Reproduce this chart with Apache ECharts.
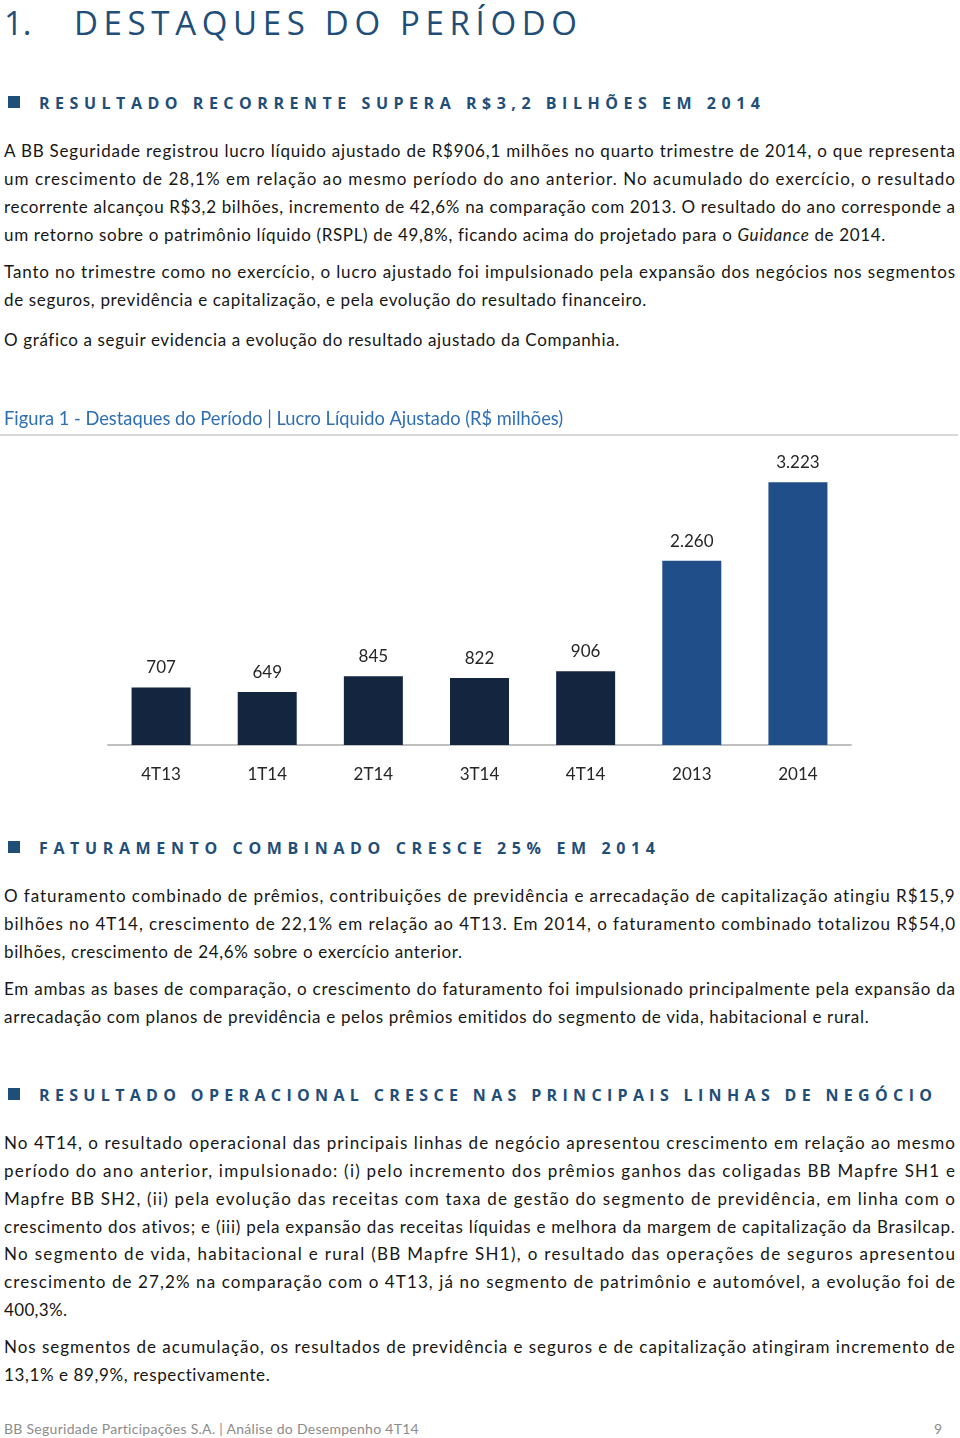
<!DOCTYPE html>
<html><head><meta charset="utf-8">
<script src="https://cdn.jsdelivr.net/npm/echarts@6/dist/echarts.min.js"></script>
<style>
html,body{margin:0;padding:0;background:#fff;}
body{width:960px;height:1438px;position:relative;overflow:hidden;font-family:Lato,"Open Sans",sans-serif;}
.ln{position:absolute;left:4px;white-space:nowrap;font-size:17px;line-height:28px;height:28px;color:#161616;margin-top:1px;}
.hd{position:absolute;left:39px;white-space:nowrap;font-family:"Open Sans",sans-serif;font-weight:700;font-size:16px;color:#1f4e79;line-height:24px;height:24px;margin-top:1px;}
.sq{position:absolute;left:8px;width:12px;height:12px;background:#1f4e79;}
.ttl{position:absolute;white-space:nowrap;font-family:"Open Sans",sans-serif;font-size:33px;color:#1f4e79;line-height:44px;height:44px;top:1px;}
.ft{position:absolute;white-space:nowrap;font-size:14px;color:#8c8c8c;line-height:20px;top:1419px;}
#chart{position:absolute;left:0;top:400px;width:960px;height:410px;}
#sep{position:absolute;left:0;top:434px;width:958px;height:2px;background:#d9d9d9;}
</style></head>
<body>
<div class="ttl" style="left:4px">1.</div>
<div class="ttl fit" style="left:74px" data-r="577">DESTAQUES DO PERÍODO</div>

<div class="sq" style="top:96px"></div>
<div class="hd fit" style="top:90px" data-r="760">RESULTADO RECORRENTE SUPERA R$3,2 BILHÕES EM 2014</div>

<div class="ln fit" style="top:136px" data-r="955">A BB Seguridade registrou lucro líquido ajustado de R$906,1 milhões no quarto trimestre de 2014, o que representa</div>
<div class="ln fit" style="top:164px" data-r="955">um crescimento de 28,1% em relação ao mesmo período do ano anterior. No acumulado do exercício, o resultado</div>
<div class="ln fit" style="top:192px" data-r="955">recorrente alcançou R$3,2 bilhões, incremento de 42,6% na comparação com 2013. O resultado do ano corresponde a</div>
<div class="ln fit" style="top:220px" data-r="885">um retorno sobre o patrimônio líquido (RSPL) de 49,8%, ficando acima do projetado para o <i>Guidance</i> de 2014.</div>
<div class="ln fit" style="top:257px" data-r="955">Tanto no trimestre como no exercício, o lucro ajustado foi impulsionado pela expansão dos negócios nos segmentos</div>
<div class="ln fit" style="top:285px" data-r="646">de seguros, previdência e capitalização, e pela evolução do resultado financeiro.</div>
<div class="ln fit" style="top:325px" data-r="619">O gráfico a seguir evidencia a evolução do resultado ajustado da Companhia.</div>

<div id="chart"></div>
<div id="sep"></div>

<div class="sq" style="top:841px"></div>
<div class="hd fit" style="top:835px" data-r="655">FATURAMENTO COMBINADO CRESCE 25% EM 2014</div>

<div class="ln fit" style="top:881px" data-r="955">O faturamento combinado de prêmios, contribuições de previdência e arrecadação de capitalização atingiu R$15,9</div>
<div class="ln fit" style="top:909px" data-r="955">bilhões no 4T14, crescimento de 22,1% em relação ao 4T13. Em 2014, o faturamento combinado totalizou R$54,0</div>
<div class="ln fit" style="top:937px" data-r="462">bilhões, crescimento de 24,6% sobre o exercício anterior.</div>
<div class="ln fit" style="top:974px" data-r="955">Em ambas as bases de comparação, o crescimento do faturamento foi impulsionado principalmente pela expansão da</div>
<div class="ln fit" style="top:1002px" data-r="869">arrecadação com planos de previdência e pelos prêmios emitidos do segmento de vida, habitacional e rural.</div>

<div class="sq" style="top:1088px"></div>
<div class="hd fit" style="top:1082px" data-r="932">RESULTADO OPERACIONAL CRESCE NAS PRINCIPAIS LINHAS DE NEGÓCIO</div>

<div class="ln fit" style="top:1128px" data-r="955">No 4T14, o resultado operacional das principais linhas de negócio apresentou crescimento em relação ao mesmo</div>
<div class="ln fit" style="top:1156px" data-r="955">período do ano anterior, impulsionado: (i) pelo incremento dos prêmios ganhos das coligadas BB Mapfre SH1 e</div>
<div class="ln fit" style="top:1184px" data-r="955">Mapfre BB SH2, (ii) pela evolução das receitas com taxa de gestão do segmento de previdência, em linha com o</div>
<div class="ln fit" style="top:1212px" data-r="955">crescimento dos ativos; e (iii) pela expansão das receitas líquidas e melhora da margem de capitalização da Brasilcap.</div>
<div class="ln fit" style="top:1239px" data-r="955">No segmento de vida, habitacional e rural (BB Mapfre SH1), o resultado das operações de seguros apresentou</div>
<div class="ln fit" style="top:1267px" data-r="955">crescimento de 27,2% na comparação com o 4T13, já no segmento de patrimônio e automóvel, a evolução foi de</div>
<div class="ln fit" style="top:1295px" data-r="67">400,3%.</div>
<div class="ln fit" style="top:1332px" data-r="955">Nos segmentos de acumulação, os resultados de previdência e seguros e de capitalização atingiram incremento de</div>
<div class="ln fit" style="top:1360px" data-r="270">13,1% e 89,9%, respectivamente.</div>

<div class="ft fit" style="left:4px" data-r="419">BB Seguridade Participações S.A. | Análise do Desempenho 4T14</div>
<div class="ft" style="left:934px">9</div>

<script>
// ---- chart data ----
const chartTitle = 'Figura 1 - Destaques do Período | Lucro Líquido Ajustado (R$ milhões)';
const categories = ['4T13', '1T14', '2T14', '3T14', '4T14', '2013', '2014'];
const values = [707, 649, 845, 822, 906, 2260, 3223];
const periodType = ['trimestre', 'trimestre', 'trimestre', 'trimestre', 'trimestre', 'ano', 'ano'];

const colorFor = { trimestre: '#13253f', ano: '#1f4e89' };
const fmt = v => String(v).replace(/\B(?=(\d{3})+(?!\d))/g, '.');

function fitText() {
  document.querySelectorAll('.fit').forEach(el => {
    const target = parseFloat(el.dataset.r) - parseFloat(el.style.left || getComputedStyle(el).left);
    el.style.letterSpacing = '0px';
    const w = el.getBoundingClientRect().width;
    const n = el.textContent.length;
    if (n > 1) el.style.letterSpacing = ((target - w) / (n - 1)) + 'px';
  });
}

function drawChart() {
  const chart = echarts.init(document.getElementById('chart'), null, { renderer: 'canvas' });
  chart.setOption({
    animation: false,
    title: {
      text: chartTitle, left: 4, top: 10, padding: 0,
      textStyle: { fontFamily: 'Lato, "Open Sans", sans-serif', fontSize: 18.3, fontWeight: 'normal', color: '#2e6fb3' }
    },
    grid: { left: 108, right: 109, top: 39.4, bottom: 65 },
    xAxis: {
      type: 'category', data: categories,
      axisLine: { lineStyle: { color: '#bfbfbf', width: 2 } },
      axisTick: { show: false },
      axisLabel: { margin: 21, fontFamily: 'Lato, "Open Sans", sans-serif', fontSize: 17, color: '#262626' }
    },
    yAxis: { type: 'value', min: 0, max: 3750, show: false, splitLine: { show: false } },
    series: [{
      type: 'bar', barWidth: 59,
      data: values.map((v, i) => ({ value: v, itemStyle: { color: colorFor[periodType[i]] } })),
      label: {
        show: true, position: 'top', distance: 11,
        formatter: p => fmt(p.value),
        fontFamily: 'Lato, "Open Sans", sans-serif', fontSize: 17, color: '#262626'
      }
    }]
  });
}

function go() { fitText(); drawChart(); }
if (document.fonts && document.fonts.ready) document.fonts.ready.then(go); else window.onload = go;
</script>
</body></html>
